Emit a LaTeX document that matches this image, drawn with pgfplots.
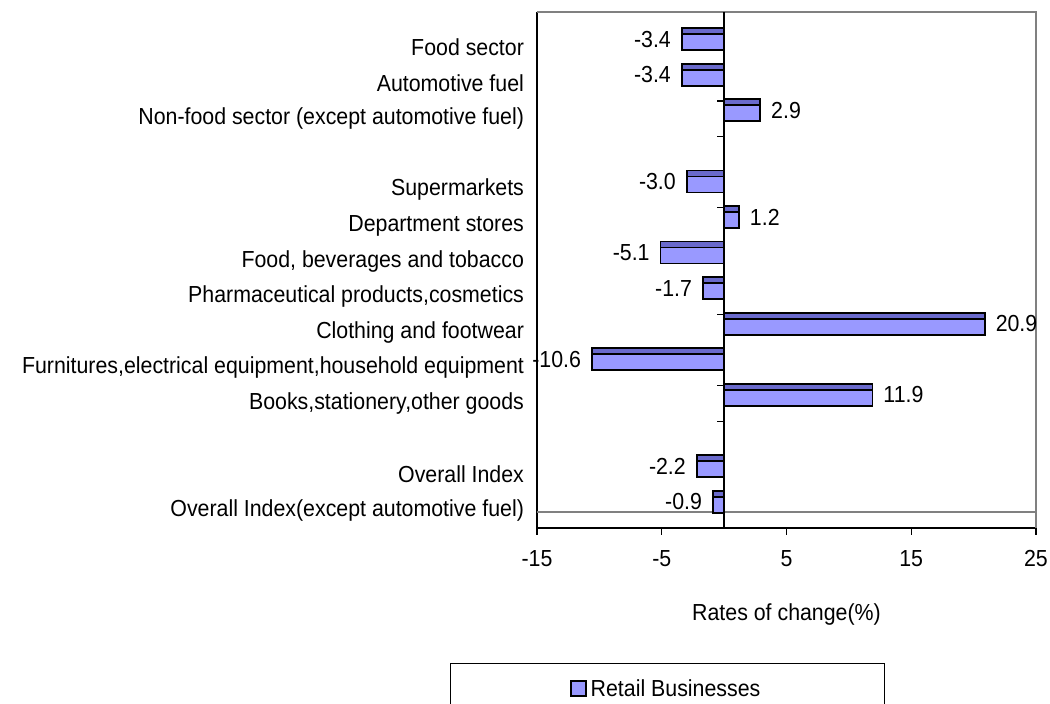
\documentclass[border=0pt]{standalone}
\usepackage{pgfplots}
\pgfplotsset{compat=1.18}
\usepackage{fontspec}
\setmainfont{Liberation Sans}[FakeStretch=0.92]
\definecolor{barlight}{HTML}{9999FF}
\definecolor{bardark}{HTML}{6A6ACC}
\definecolor{frame}{HTML}{808080}
\pgfplotsset{/pgf/number format/assume math mode=true}
\begin{document}
\begin{tikzpicture}[font=\fontsize{11.6}{13.9}\selectfont]
\useasboundingbox (0,0) rectangle (525pt,352pt);
\begin{axis}[
  at={(268.5pt,88pt)}, anchor=south west,
  scale only axis, width=249.5pt, height=258pt,
  xmin=-15, xmax=25, ymin=-0.5, ymax=14,
  axis x line*=bottom, axis y line*=left,
  axis line style={black, line width=0.6pt},
  xtick={-15,-5,5,15,25},
  tick align=outside, major tick length=3.5pt,
  tick style={black, line width=0.6pt},
  xticklabel style={yshift=-4pt},
  ytick={0,...,13},
  ytick style={draw=none},
  yticklabels={Overall Index(except automotive fuel),Overall Index,,Books{,}stationery{,}other goods,Furnitures{,}electrical equipment{,}household equipment,Clothing and footwear,Pharmaceutical products{,}cosmetics,{Food, beverages and tobacco},Department stores,Supermarkets,,Non-food sector (except automotive fuel),Automotive fuel,Food sector},
  yticklabel style={xshift=0.5pt},
  extra y ticks={-0.5,0.5,...,13.5},
  extra y tick labels={},
  extra y tick style={major tick length=4pt, tick style={black, line width=0.6pt}},
  xlabel={Rates of change(\%)},
  xlabel style={at={(axis description cs:0.5,-0.1686)}, anchor=center},
  clip=false,
  legend style={at={(axis description cs:0.261,-0.2616)}, anchor=north,
    draw=black, line width=0.5pt, inner xsep=60pt, inner ysep=6pt,
    font=\fontsize{11.6}{13.9}\selectfont},
  legend image code/.code={\draw[fill=barlight, draw=black, line width=0.8pt] (0pt,-3.4pt) rectangle (7.5pt,4.1pt);},
]
% frame (top and right in gray)
\draw[frame, line width=0.8pt] (axis cs:-15,14) -- (axis cs:25,14) -- (axis cs:25,-0.5);
\draw[frame, line width=1.2pt] (axis cs:-15,-0.05) -- (axis cs:25,-0.05);
% zero line ticks
\pgfplotsinvokeforeach{-0.5,0.5,...,13.5}{\draw[black, line width=0.6pt] (axis cs:0,#1) -- ([xshift=-3.5pt]axis cs:0,#1);}
\addplot[xbar, bar width=11pt, bar shift=4.25pt, fill=barlight, draw=black, line width=0.9pt,
  point meta=x,
  nodes near coords={\pgfmathprintnumber[fixed,fixed zerofill,precision=1]{\pgfplotspointmeta}},
  nodes near coords align=horizontal,
  every node near coord/.append style={black, inner xsep=5pt, yshift=4.25pt, font=\fontsize{11.6}{13.9}\selectfont}]
  coordinates {(-3.4,13) (-3.4,12) (2.9,11) (-3.0,9) (1.2,8) (-5.1,7) (-1.7,6) (20.9,5) (-10.6,4) (11.9,3) (-2.2,1) (-0.9,0)};
\addlegendentry{Retail Businesses}
\addplot[xbar, bar width=3pt, bar shift=8.25pt, fill=bardark, draw=black, line width=0.9pt, forget plot]
  coordinates {(-3.4,13) (-3.4,12) (2.9,11) (-3.0,9) (1.2,8) (-5.1,7) (-1.7,6) (20.9,5) (-10.6,4) (11.9,3) (-2.2,1) (-0.9,0)};
\draw[black, line width=0.8pt] (axis cs:0,-0.5) -- (axis cs:0,14);
\end{axis}
\end{tikzpicture}
\end{document}
